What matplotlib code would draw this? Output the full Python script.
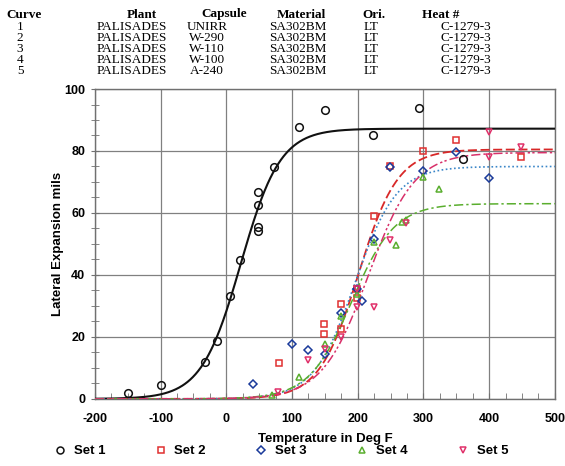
import numpy as np
import matplotlib
matplotlib.use("Agg")
import matplotlib.pyplot as plt
from matplotlib.ticker import MultipleLocator
from matplotlib.lines import Line2D

# ---- header table ----
curve_ids = ["1", "2", "3", "4", "5"]
plants = ["PALISADES"] * 5
capsules = ["UNIRR", "W-290", "W-110", "W-100", "A-240"]
materials = ["SA302BM"] * 5
orients = ["LT"] * 5
heats = ["C-1279-3"] * 5

# ---- data points (Temperature F, Lateral expansion mils) ----
s1_t = [-150, -100, -32, -14, 6, 21, 48, 48, 48, 48, 73, 110, 150, 224, 293, 360]
s1_y = [2, 4.5, 12, 18.7, 33.3, 44.7, 54.3, 55.6, 62.7, 66.7, 74.7, 87.8, 93.3, 85.2, 93.8, 77.4]
s2_t = [80, 149, 149, 174, 174, 199, 199, 225, 249, 300, 349, 448]
s2_y = [11.7, 24.1, 21.1, 30.6, 22.6, 32.5, 35.6, 59, 75.2, 80.1, 83.5, 78]
s3_t = [40, 100, 125, 150, 174, 199, 206, 225, 249, 300, 349, 400]
s3_y = [4.8, 17.6, 15.7, 14.4, 27.6, 35.6, 31.7, 51.5, 74.7, 73.6, 79.6, 71.4]
s4_t = [70, 110, 150, 174, 199, 225, 259, 268, 274, 300, 324]
s4_y = [1.1, 7.1, 17.6, 26.8, 34, 50.5, 49.8, 57, 57.7, 71.5, 67.7]
s5_t = [79, 125, 150, 174, 199, 199, 225, 249, 274, 400, 400, 448]
s5_y = [2.3, 12.7, 16, 20.1, 29.6, 35.6, 29.5, 51.3, 56.9, 86.2, 78, 81.4]

# ---- tanh fit parameters: lower shelf, upper shelf, T0, C ----
fit_lower = [0.0, 0.0, 0.0, 0.0, 0.0]
fit_upper = [87.2, 80.5, 75.0, 63.0, 79.5]
fit_t0 = [22, 201, 196, 191, 216]
fit_c = [60, 60, 63, 65, 70]

labels = ["Set 1", "Set 2", "Set 3", "Set 4", "Set 5"]
marker_colors = ["#111111", "#e03030", "#1a3a9a", "#5aae2e", "#e0306a"]
line_colors = ["#111111", "#d82828", "#3a86c8", "#5aae2e", "#d8306a"]
markers = ["o", "s", "D", "^", "v"]
msizes = [5.5, 4.5, 4.5, 5, 5]
linestyles = ["-", (0, (5, 2)), (0, (1, 1.5)), (0, (6, 2, 1.5, 2)), (0, (6, 2, 1.5, 1.5, 1.5, 2))]
linewidths = [1.5, 1.3, 1.2, 1.1, 1.1]

plt.rcParams['font.family'] = ['Liberation Sans', 'DejaVu Sans']
plt.rcParams['axes.unicode_minus'] = False

fig = plt.figure(figsize=(5.65, 4.66), dpi=100)
ax = fig.add_axes([0.168, 0.144, 0.814, 0.665])

temps = np.linspace(-200, 500, 701)
sets = [(s1_t, s1_y), (s2_t, s2_y), (s3_t, s3_y), (s4_t, s4_y), (s5_t, s5_y)]
for i, (tt, yy) in enumerate(sets):
    a = (fit_upper[i] + fit_lower[i]) / 2
    b = (fit_upper[i] - fit_lower[i]) / 2
    curve = a + b * np.tanh((temps - fit_t0[i]) / fit_c[i])
    ax.plot(temps, curve, color=line_colors[i], linestyle=linestyles[i],
            linewidth=linewidths[i], zorder=3)
for i, (tt, yy) in enumerate(sets):
    ax.plot(tt, yy, linestyle='none', marker=markers[i], markersize=msizes[i],
            markerfacecolor='none', markeredgecolor=marker_colors[i],
            markeredgewidth=1.1, zorder=4)

ax.set_xlim(-200, 500)
ax.set_ylim(0, 100)
ax.xaxis.set_major_locator(MultipleLocator(100))
ax.xaxis.set_minor_locator(MultipleLocator(25))
ax.yaxis.set_major_locator(MultipleLocator(20))
ax.yaxis.set_minor_locator(MultipleLocator(5))
ax.grid(True, which='major', color='#808080', linewidth=0.9)
ax.set_axisbelow(True)
for sp in ax.spines.values():
    sp.set_color('#707070')
    sp.set_linewidth(1.0)
ax.tick_params(axis='both', which='both', colors='#707070', labelcolor='black')
ax.tick_params(axis='x', which='both', direction='in', length=4, pad=10)
ax.tick_params(axis='y', which='both', direction='inout', length=6, pad=4)
for lab in ax.get_xticklabels() + ax.get_yticklabels():
    lab.set_fontweight('bold')
    lab.set_fontsize(9)

ax.set_xlabel("Temperature in Deg F", fontsize=9.5, fontweight='bold', labelpad=6)
ax.set_ylabel("Lateral Expansion mils", fontsize=9.5, fontweight='bold', labelpad=0)

# legend
handles = [Line2D([], [], linestyle='none', marker=markers[i], markersize=msizes[i] - 0.5,
                  markerfacecolor='none', markeredgecolor=marker_colors[i],
                  markeredgewidth=1.1) for i in range(5)]
leg = fig.legend(handles, labels, ncol=5, loc='center', bbox_to_anchor=(0.497, 0.032),
                 frameon=False, handlelength=1.0, handletextpad=0.55, columnspacing=3.7,
                 prop={'weight': 'bold', 'size': 9.5})

# header table
serif = ['Liberation Serif', 'DejaVu Serif']
fs = 9.5
hy = 1 - 17.5 / 466
fig.text(6 / 565, hy, "Curve", ha='left', va='baseline', fontsize=fs, fontweight='bold', family=serif)
col_hdr = [("Plant", 142), ("Capsule", 224), ("Material", 301), ("Ori.", 374)]
for txt, xc in col_hdr:
    fig.text(xc / 565, hy, txt, ha='center', va='baseline', fontsize=fs, fontweight='bold', family=serif)
fig.text(422 / 565, hy, "Heat #", ha='left', va='baseline', fontsize=fs, fontweight='bold', family=serif)

for r in range(5):
    ry = 1 - (30.5 + r * 10.8) / 466
    fig.text(20 / 565, ry, curve_ids[r], ha='center', va='baseline', fontsize=fs, family=serif)
    fig.text(132 / 565, ry, plants[r], ha='center', va='baseline', fontsize=fs, family=serif)
    fig.text(207 / 565, ry, capsules[r], ha='center', va='baseline', fontsize=fs, family=serif)
    fig.text(298 / 565, ry, materials[r], ha='center', va='baseline', fontsize=fs, family=serif)
    fig.text(371 / 565, ry, orients[r], ha='center', va='baseline', fontsize=fs, family=serif)
    fig.text(466 / 565, ry, heats[r], ha='center', va='baseline', fontsize=fs, family=serif)

fig.savefig("out.png", dpi=100)
